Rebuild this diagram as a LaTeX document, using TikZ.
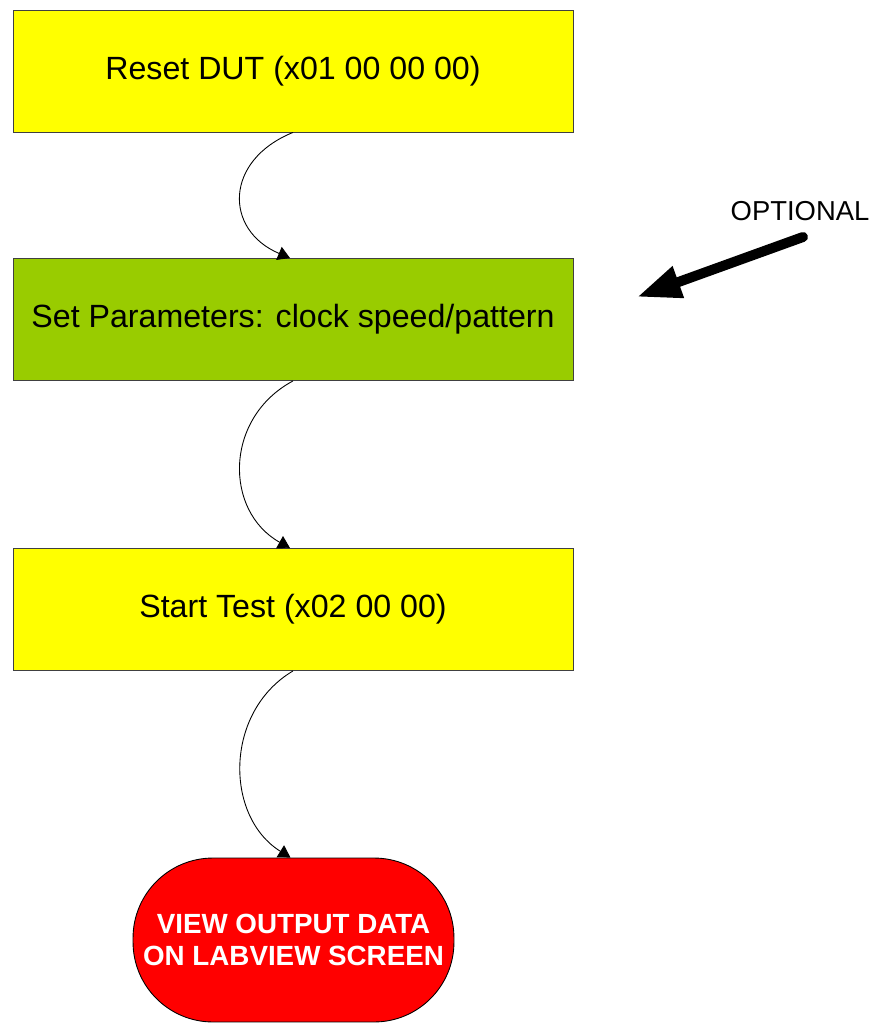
\documentclass[tikz,border=0pt]{standalone}
\usepackage{fontspec}
\setmainfont{Liberation Sans}
\usetikzlibrary{arrows.meta,positioning}
\definecolor{boxyellow}{RGB}{255,255,0}
\definecolor{boxgreen}{RGB}{153,204,0}
\definecolor{endred}{RGB}{255,0,0}

\begin{document}
\begin{tikzpicture}[
    x=0.02cm, y=-0.02cm,
    >={Triangle[length=0.24cm,width=0.28cm]},
    every node/.style={font=\fontsize{18.3}{22}\selectfont},
    cmd/.style={
        draw=black!75,
        line width=0.5pt,
        minimum width=11.2cm,
        minimum height=2.44cm,
        inner sep=0pt
    },
    endnode/.style={
        draw=black,
        line width=0.5pt,
        fill=endred,
        rounded corners=1.6cm,
        minimum width=6.42cm,
        minimum height=3.28cm,
        align=center,
        text=white,
        font=\fontsize{15.8}{17.8}\selectfont\bfseries
    },
    flow/.style={->, line width=0.5pt}
]
\useasboundingbox (0,0) rectangle (874,1023);

\node[cmd, fill=boxyellow] (reset) at (293,71) {Reset DUT (x01 00 00 00)};
\node[cmd, fill=boxgreen] (params) at (293,319.5) {Set Parameters: clock speed/pattern};
\node[cmd, fill=boxyellow] (start) at (293,609.5) {Start Test (x02 00 00)};
\node[endnode] (view) at (293.5,940) {VIEW OUTPUT DATA\\ON LABVIEW SCREEN};

\draw[flow] (reset.south) .. controls +(-69,28) and +(-66,-28) .. ([xshift=-0.06cm]params.north);
\draw[flow] (params.south) .. controls +(-69,37) and +(-66,-37) .. ([xshift=-0.06cm]start.north);
\draw[flow] (start.south) .. controls +(-69,41) and +(-66,-41) .. ([xshift=-0.06cm]view.north);

% optional step
\node[font=\fontsize{15.6}{18}\selectfont] (opt) at (800,211) {OPTIONAL};
\coordinate (optTail) at (803,237);
\coordinate (optTip) at (637,297);
\draw[-{Triangle[length=0.88cm,width=0.62cm]}, line width=0.2cm, line cap=round] (optTail) -- (optTip);

\end{tikzpicture}
\end{document}
